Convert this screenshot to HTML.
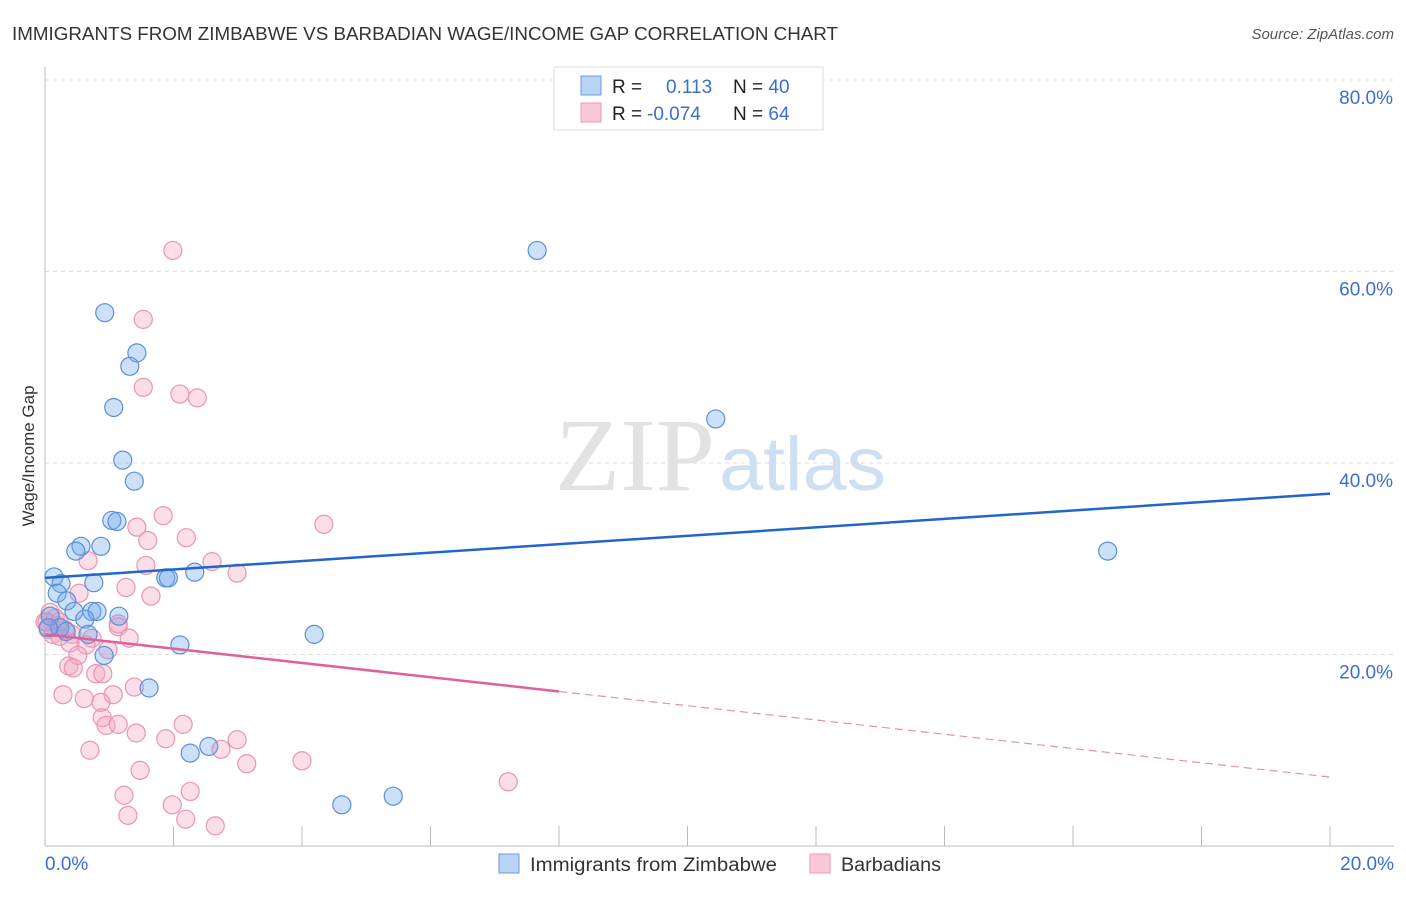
<!DOCTYPE html>
<html><head><meta charset="utf-8"><style>
body{margin:0;background:#fff;font-family:"Liberation Sans",sans-serif}
svg text{font-family:"Liberation Sans",sans-serif}
</style></head><body>
<svg width="1406" height="892" xmlns="http://www.w3.org/2000/svg">
<text x="12" y="40" font-size="18" fill="#333" textLength="826" lengthAdjust="spacingAndGlyphs">IMMIGRANTS FROM ZIMBABWE VS BARBADIAN WAGE/INCOME GAP CORRELATION CHART</text>
<text x="1394" y="39" font-size="15" fill="#555" font-style="italic" text-anchor="end">Source: ZipAtlas.com</text>
<g id="grid"></g>
<text x="555" y="490" font-size="104" fill="#e2e2e2" textLength="160" lengthAdjust="spacingAndGlyphs" style="font-family:'Liberation Serif',serif">ZIP</text>
<text x="719" y="490" font-size="76" fill="#cfdff2" textLength="167" lengthAdjust="spacingAndGlyphs">atlas</text>
<g id="axes"></g>
<g id="pts"></g>
<g id="lines"></g>
<text transform="translate(34,456) rotate(-90)" font-size="17" fill="#333" text-anchor="middle">Wage/Income Gap</text>
<g>
<rect x="554" y="67" width="269" height="63" fill="#fff" stroke="#ddd"/>
<rect x="581" y="76" width="20" height="19" fill="#b8d3f4" stroke="#6a9be0"/>
<rect x="581" y="103" width="20" height="19" fill="#f9c8d8" stroke="#ec9ab8"/>
<text x="612" y="93" font-size="19" fill="#222">R = <tspan x="666" fill="#3a6fd0">0.113</tspan><tspan x="733" fill="#222">N = </tspan><tspan fill="#3a6fd0">40</tspan></text>
<text x="612" y="120" font-size="19" fill="#222">R = <tspan x="647" fill="#3a6fd0">-0.074</tspan><tspan x="733" fill="#222">N = </tspan><tspan fill="#3a6fd0">64</tspan></text>
</g>
<g>
<rect x="499" y="854" width="20" height="19" fill="#b8d3f4" stroke="#6a9be0"/>
<text x="530" y="871" font-size="19" fill="#333" textLength="247" lengthAdjust="spacingAndGlyphs">Immigrants from Zimbabwe</text>
<rect x="810" y="854" width="20" height="19" fill="#f9c8d8" stroke="#ec9ab8"/>
<text x="841" y="871" font-size="19" fill="#333" textLength="100" lengthAdjust="spacingAndGlyphs">Barbadians</text>
</g>
</svg>
<script>
const blueX=[0.93,1.43,1.32,1.07,1.21,1.39,1.04,1.12,0.56,0.48,0.87,0.14,0.25,0.76,1.88,1.92,2.33,0.19,0.34,0.45,0.73,0.81,0.62,1.15,0.08,0.67,0.23,2.10,0.92,1.62,4.19,7.66,10.44,16.54,2.26,2.55,4.62,5.42,0.33,0.05];
const blueY=[55.7,51.5,50.1,45.8,40.3,38.1,34.0,33.9,31.3,30.8,31.3,28.1,27.4,27.5,28.0,28.0,28.6,26.4,25.6,24.5,24.5,24.5,23.7,24.0,24.0,22.1,22.8,21.0,19.9,16.5,22.1,62.2,44.6,30.8,9.7,10.4,4.3,5.2,22.4,22.8];
const pinkX=[1.99,1.53,1.53,2.10,2.37,1.84,1.43,4.34,2.20,1.60,0.67,2.60,1.57,2.99,1.26,0.53,1.65,0.08,0.0,0.16,0.05,0.20,0.31,0.42,0.12,0.23,1.14,1.14,0.73,1.31,0.39,0.64,0.98,0.51,0.37,0.44,0.79,0.90,0.28,0.61,1.06,1.39,0.87,0.89,0.95,1.14,2.15,1.42,1.88,2.99,2.74,0.70,3.14,4.00,1.48,7.21,1.23,2.26,1.98,1.29,2.19,2.65,0.03,0.22];
const pinkY=[62.2,55.0,47.9,47.2,46.8,34.5,33.3,33.6,32.2,31.9,29.8,29.7,29.3,28.5,27.0,26.4,26.1,24.4,23.4,23.8,22.6,23.0,22.6,22.1,22.1,21.9,22.9,23.2,21.7,21.7,21.2,21.0,20.5,19.9,18.8,18.6,18.0,18.0,15.8,15.4,15.8,16.6,15.0,13.4,12.6,12.7,12.7,11.8,11.2,11.1,10.1,10.0,8.6,8.9,7.9,6.7,5.3,5.7,4.3,3.2,2.8,2.1,23.4,23.4];
const blueTrend=[28.0,36.8];
const pinkTrend=[22.1,7.2];
const pinkSolidEnd=8;
const yTicks=[20,40,60,80];
const xTicks=[0,2,4,6,8,10,12,14,16,18,20];
const NS='http://www.w3.org/2000/svg';
const sx=v=>45+v*1285/20, sy=v=>846-v*191.5/20;
function mk(t,a,p){const e=document.createElementNS(NS,t);for(const k in a)e.setAttribute(k,a[k]);p.appendChild(e);return e;}
const grid=document.getElementById('grid'),axes=document.getElementById('axes'),pts=document.getElementById('pts'),lines=document.getElementById('lines');
yTicks.forEach(v=>{const l=mk('line',{x1:45,x2:1394,y1:sy(v),y2:sy(v),stroke:'#ddd','stroke-dasharray':'4,4'},grid);


const t=mk('text',{x:1393,y:sy(v)+24,'font-size':19,fill:'#3a6fd0','text-anchor':'end'},grid);t.textContent=v.toFixed(1)+'%';

});
const ax=mk('line',{x1:45,x2:1394,y1:846,y2:846,stroke:'#bbb'},axes);


const ay=mk('line',{x1:45,x2:45,y1:67,y2:846,stroke:'#bbb'},axes);


xTicks.forEach(v=>{const l=mk('line',{x1:sx(v),x2:sx(v),y1:826,y2:846,stroke:'#bbb'},axes);

});
[[0,'0.0%','start',45],[20,'20.0%','end',1394]].forEach(a=>{const t=mk('text',{x:a[3],y:870,'font-size':19,fill:'#3a6fd0','text-anchor':a[2]},axes);t.textContent=a[1];

});
pinkX.forEach((x,i)=>{const c=mk('circle',{cx:sx(x),cy:sy(pinkY[i]),r:9,fill:'rgba(244,160,190,0.35)',stroke:'#eb94b4','stroke-width':1.2},pts);

});
blueX.forEach((x,i)=>{const c=mk('circle',{cx:sx(x),cy:sy(blueY[i]),r:9,fill:'rgba(110,165,235,0.35)',stroke:'#5a90d8','stroke-width':1.2},pts);

});
const bl=mk('line',{x1:sx(0),y1:sy(blueTrend[0]),x2:sx(20),y2:sy(blueTrend[1]),stroke:'#2266cc','stroke-width':2.5},lines);


const pe=pinkTrend[0]+(pinkTrend[1]-pinkTrend[0])*pinkSolidEnd/20;
const pl=mk('line',{x1:sx(0),y1:sy(pinkTrend[0]),x2:sx(pinkSolidEnd),y2:sy(pe),stroke:'#e0609a','stroke-width':2.5},lines);


const pd=mk('line',{x1:sx(pinkSolidEnd),y1:sy(pe),x2:sx(20),y2:sy(pinkTrend[1]),stroke:'#e890b0','stroke-width':1.2,'stroke-dasharray':'8,5'},lines);


</script>
</body></html>
